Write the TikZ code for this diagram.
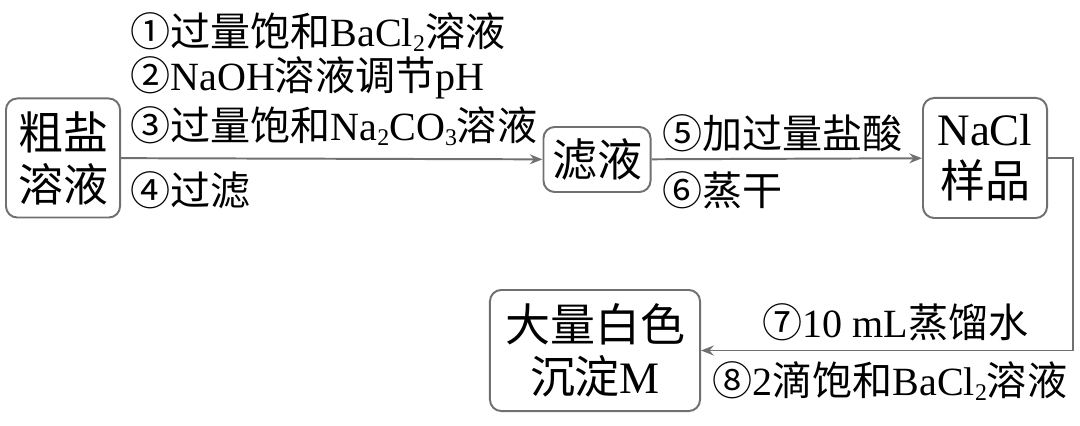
\documentclass[tikz,border=0pt]{standalone}
\usepackage{fontspec}
\setmainfont{Liberation Serif}
\newfontfamily\cjk{Noto Sans CJK SC}
\usetikzlibrary{arrows.meta,positioning}
\newcommand{\zh}[1]{{\cjk #1}}
\newcommand{\chemsub}[1]{\raisebox{-0.12em}{\fontsize{17}{17}\selectfont #1}}
\definecolor{edgegray}{HTML}{707070}

\begin{document}
\begin{tikzpicture}[
  x=0.025cm, y=-0.025cm,
  box/.style={rectangle, draw=edgegray, line width=1.4pt, rounded corners=8pt,
              align=center, inner sep=0pt, font=\fontsize{32}{37}\selectfont},
  flow/.style={-{Stealth[length=9pt,width=7pt]}, draw=edgegray, line width=1.4pt},
  steplab/.style={inner sep=0pt, anchor=west, font=\fontsize{28.5}{34}\selectfont}
]
  \useasboundingbox (0,0) rectangle (1080,426);
  % Boxes
  \node[box, minimum width=2.85cm, minimum height=2.975cm] (crude) at (63,158) {\zh{粗盐}\\\zh{溶液}};
  \node[box, minimum width=2.675cm, minimum height=1.625cm] (filt) at (597,159.5) {\zh{滤液}};
  \node[box, minimum width=3.1cm, minimum height=3cm] (nacl) at (985,158) {NaCl\\\zh{样品}};
  \node[box, minimum width=5.25cm, minimum height=3.025cm] (ppt) at (595,350.5) {\zh{大量白色}\\\zh{沉淀}M};

  % Step labels
  \node[steplab] (s1) at (130,32)  {\zh{①过量饱和}BaCl\chemsub{2}\zh{溶液}};
  \node[steplab] (s2) at (130,78)  {\zh{②}NaOH\zh{溶液调节}pH};
  \node[steplab] (s3) at (130,126) {\zh{③过量饱和}Na\chemsub{2}CO\chemsub{3}\zh{溶液}};
  \node[steplab] (s4) at (130,190) {\zh{④过滤}};
  \node[steplab] (s5) at (662,133) {\zh{⑤加过量盐酸}};
  \node[steplab] (s6) at (662,190) {\zh{⑥蒸干}};
  \node[steplab] (s7) at (762,322) {\zh{⑦}10 mL\zh{蒸馏水}};
  \node[steplab] (s8) at (712,381) {\zh{⑧}2\zh{滴饱和}BaCl\chemsub{2}\zh{溶液}};

  % Connectors
  \draw[flow] (crude) -- (filt);
  \draw[flow] (filt) -- (nacl);
  \draw[flow] (nacl.east) -- ++(25,0) |- (ppt.east);
\end{tikzpicture}
\end{document}
